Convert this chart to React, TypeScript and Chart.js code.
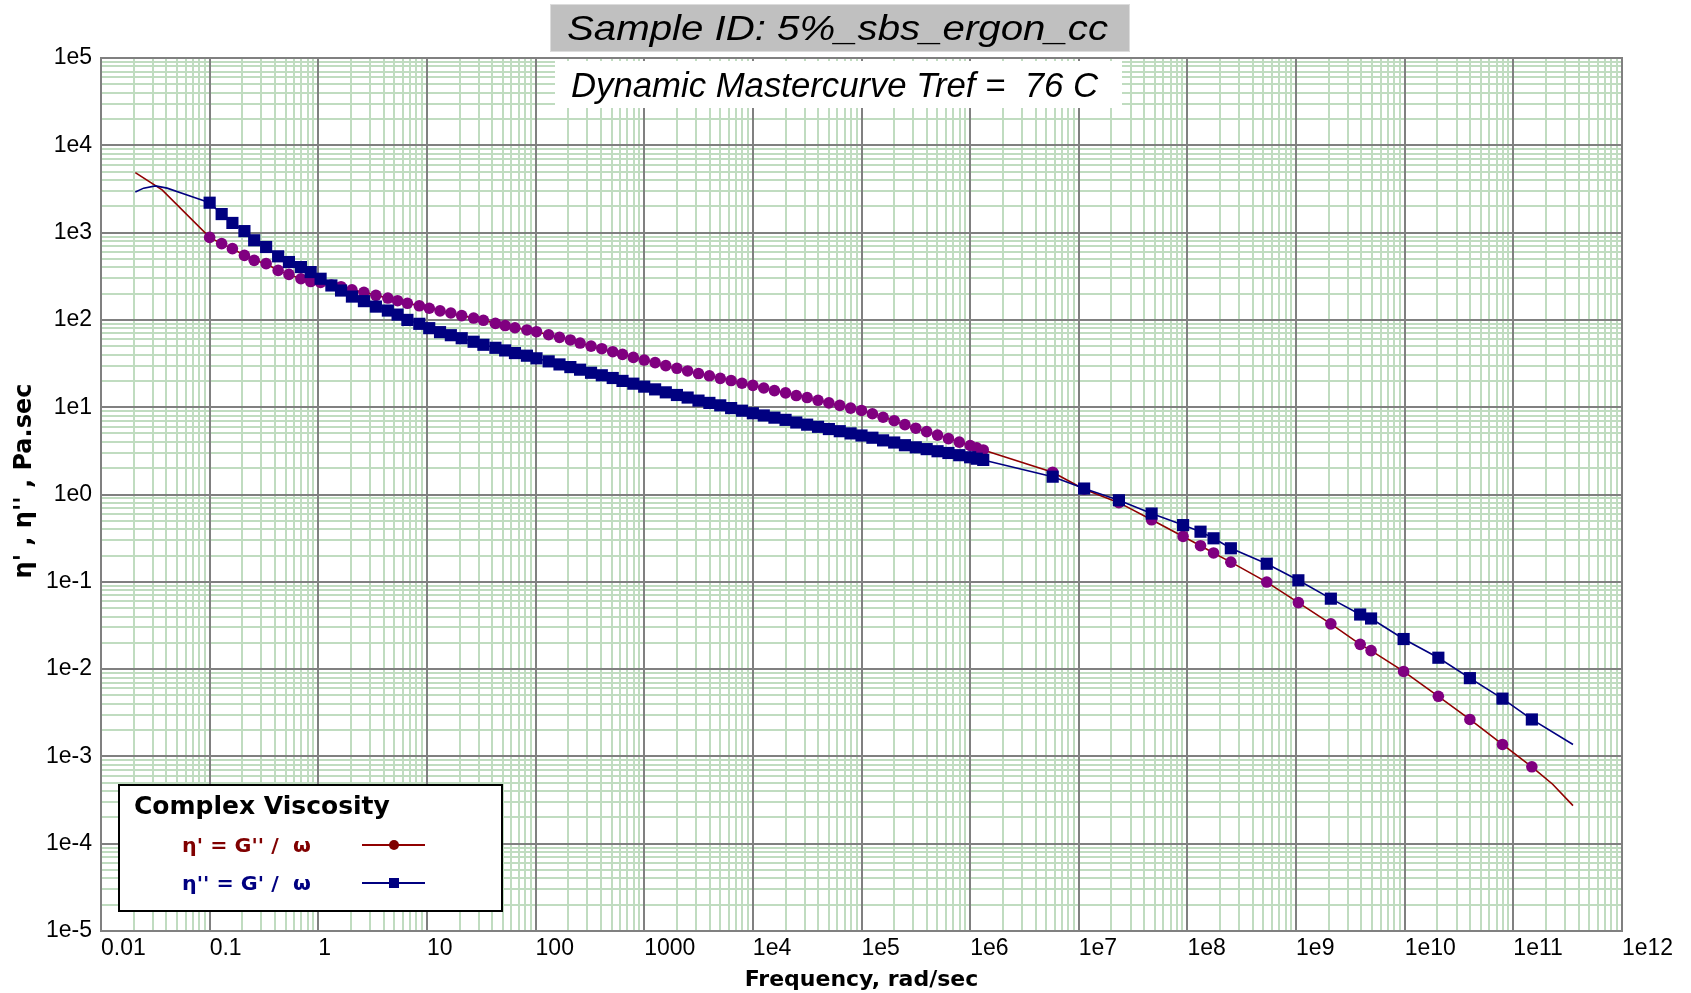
import React, { useEffect, useRef } from 'react';
import { Chart, registerables } from 'chart.js';

Chart.register(...registerables);

// ---------- tick labels ----------
const X_TICK_LABELS = ['0.01', '0.1', '1', '10', '100', '1000', '1e4', '1e5', '1e6', '1e7', '1e8', '1e9', '1e10', '1e11', '1e12'];
const Y_TICK_LABELS = ['1e-5', '1e-4', '1e-3', '1e-2', '1e-1', '1e0', '1e1', '1e2', '1e3', '1e4', '1e5'];
const X_MIN_EXP = -2;
const X_MAX_EXP = 12;
const Y_MIN_EXP = -5;
const Y_MAX_EXP = 5;

// ---------- measured data (frequency, rad/sec) ----------
const FREQ_DENSE = [
  0.1, 0.129, 0.162, 0.209, 0.257, 0.331, 0.427, 0.537, 0.692, 0.851,
  1.05, 1.32, 1.62, 2.04, 2.63, 3.39, 4.37, 5.37, 6.61, 8.51,
  10.5, 13.2, 16.6, 20.9, 26.9, 33.1, 42.7, 52.5, 64.6, 83.2,
  102, 132, 166, 209, 257, 324, 407, 513, 631, 794,
  1000, 1260, 1580, 2000, 2510, 3160, 3980, 5010, 6310, 7940,
  1.0e4, 1.26e4, 1.58e4, 2.0e4, 2.51e4, 3.16e4, 3.98e4, 5.01e4, 6.31e4, 7.94e4,
  1.0e5, 1.26e5, 1.58e5, 2.0e5, 2.51e5, 3.16e5, 3.98e5, 5.01e5, 6.31e5, 7.94e5,
  1.0e6, 1.15e6, 1.32e6,
];
const ETA1_DENSE = [
  881, 748, 655, 548, 481, 441, 369, 332, 296, 275,
  269, 251, 240, 221, 207, 191, 178, 166, 155, 145,
  136, 127, 120, 112, 105, 98.9, 91.2, 86.1, 81.3, 76.7,
  73.3, 67.6, 63.1, 58.9, 54.3, 50.1, 46.8, 43.2, 40.3, 37.2,
  34.7, 32.4, 29.9, 27.9, 26.0, 24.3, 22.9, 21.4, 20.2, 18.8,
  17.8, 16.6, 15.5, 14.6, 13.6, 12.9, 12.0, 11.2, 10.5, 9.77,
  9.18, 8.41, 7.67, 7.0, 6.31, 5.75, 5.25, 4.79, 4.37, 3.98,
  3.64, 3.43, 3.24,
];
const ETA2_DENSE = [
  2200, 1630, 1290, 1040, 817, 684, 535, 460, 403, 353,
  296, 248, 217, 185, 164, 142, 128, 115, 100, 90.2,
  80.4, 72.4, 66.8, 61.7, 56.2, 51.9, 47.9, 44.7, 41.7, 38.9,
  36.3, 33.5, 30.9, 28.8, 26.9, 24.8, 23.2, 21.6, 20.0, 18.6,
  17.2, 16.0, 14.8, 13.8, 12.9, 11.9, 11.2, 10.5, 9.77, 9.12,
  8.53, 8.04, 7.59, 7.16, 6.68, 6.31, 5.96, 5.62, 5.31, 5.01,
  4.74, 4.47, 4.17, 3.94, 3.67, 3.47, 3.31, 3.13, 2.99, 2.82,
  2.67, 2.57, 2.49,
];
const FREQ_SPARSE = [5.75e6, 1.12e7, 2.34e7, 4.68e7, 9.12e7, 1.32e8, 1.74e8, 2.51e8, 5.37e8, 1.05e9, 2.09e9, 3.89e9, 4.9e9, 9.77e9, 2.04e10, 3.98e10, 7.94e10, 1.48e11];
const ETA1_SPARSE = [1.8, 1.15, 0.807, 0.513, 0.331, 0.259, 0.214, 0.168, 0.0993, 0.0578, 0.033, 0.0192, 0.0163, 0.0094, 0.00488, 0.00265, 0.00137, 0.00076];
const ETA2_SPARSE = [1.6, 1.17, 0.859, 0.605, 0.446, 0.375, 0.315, 0.242, 0.161, 0.104, 0.0641, 0.0422, 0.038, 0.0221, 0.0135, 0.00788, 0.00459, 0.00265];

// ---------- fitted curve extensions beyond the markers ----------
const FIT1_HEAD_FREQ = [0.0207, 0.0365];
const FIT1_HEAD = [4860, 3080];
const FIT1_TAIL_FREQ = [2.3e11, 3.54e11];
const FIT1_TAIL = [0.00048, 0.000273];
const FIT2_HEAD_FREQ = [0.0207, 0.0247, 0.0317, 0.0406, 0.062];
const FIT2_HEAD = [2920, 3230, 3430, 3230, 2700];
const FIT2_TAIL_FREQ = [3.54e11];
const FIT2_TAIL = [0.00137];

const TITLE = 'Sample ID: 5%_sbs_ergon_cc';
const SUBTITLE = 'Dynamic Mastercurve Tref =  76 C';
const X_TITLE = 'Frequency, rad/sec';
const Y_TITLE = "\u03B7' , \u03B7'' , Pa.sec";
const LEGEND_TITLE = 'Complex Viscosity';
const LEGEND_1 = "\u03B7' = G'' /  \u03C9";
const LEGEND_2 = "\u03B7'' = G' /  \u03C9";

const toXY = (xs: number[], ys: number[]) => xs.map((x, i) => ({ x, y: ys[i] }));

function isPow10(v: number) {
  const l = Math.log10(v);
  return Math.abs(l - Math.round(l)) < 1e-6;
}

function logTicks(minExp: number, maxExp: number) {
  const t: { value: number; major: boolean }[] = [];
  for (let e = minExp; e <= maxExp; e++) {
    const base = Math.pow(10, e);
    t.push({ value: base, major: true });
    if (e < maxExp) {
      for (let m = 2; m <= 9; m++) t.push({ value: m * base, major: false });
    }
  }
  return t;
}

function fitText(ctx: CanvasRenderingContext2D, text: string, x: number, baseline: number, width: number) {
  const w = ctx.measureText(text).width;
  ctx.save();
  ctx.translate(x, baseline);
  ctx.scale(width / w, 1);
  ctx.textAlign = 'left';
  ctx.textBaseline = 'alphabetic';
  ctx.fillText(text, 0, 0);
  ctx.restore();
}

const overlayPlugin = {
  id: 'overlay',
  beforeDatasetsDraw(chart: any) {
    const { ctx, chartArea: a, scales } = chart;
    const xs = scales.x;
    const ys = scales.y;
    ctx.save();
    ctx.strokeStyle = '#808080';
    ctx.lineWidth = 2;
    ctx.beginPath();
    xs.ticks.forEach((t: any) => {
      if (!isPow10(t.value)) return;
      const px = Math.round(xs.getPixelForValue(t.value));
      ctx.moveTo(px, a.top);
      ctx.lineTo(px, a.bottom);
    });
    ys.ticks.forEach((t: any) => {
      if (!isPow10(t.value)) return;
      const py = Math.round(ys.getPixelForValue(t.value));
      ctx.moveTo(a.left, py);
      ctx.lineTo(a.right, py);
    });
    ctx.stroke();
    ctx.strokeRect(a.left, a.top, a.right - a.left, a.bottom - a.top);
    ctx.restore();
  },
  afterDraw(chart: any) {
    const { ctx } = chart;
    ctx.save();
    // title box
    ctx.fillStyle = '#c0c0c0';
    ctx.fillRect(551, 5, 578, 46);
    ctx.strokeStyle = '#dcdcdc';
    ctx.lineWidth = 1;
    ctx.strokeRect(550.5, 4.5, 579, 47);
    ctx.fillStyle = '#000';
    ctx.font = "italic 35px 'Liberation Sans', Arial, sans-serif";
    fitText(ctx, TITLE, 567, 40, 541);
    // subtitle box
    ctx.fillStyle = '#ffffff';
    ctx.fillRect(555, 61, 567, 47);
    ctx.fillStyle = '#000';
    ctx.font = "italic 35px 'Liberation Sans', Arial, sans-serif";
    fitText(ctx, SUBTITLE, 571, 97, 527);

    // y axis title
    ctx.save();
    ctx.translate(25, 481);
    ctx.rotate(-Math.PI / 2);
    ctx.font = "bold 24px 'DejaVu Sans', sans-serif";
    ctx.fillStyle = '#000';
    ctx.textAlign = 'center';
    ctx.textBaseline = 'middle';
    ctx.fillText(Y_TITLE, 0, 0);
    ctx.restore();

    // legend
    ctx.fillStyle = '#ffffff';
    ctx.fillRect(119, 785, 383, 126);
    ctx.strokeStyle = '#000';
    ctx.lineWidth = 2;
    ctx.strokeRect(119, 785, 383, 126);
    ctx.fillStyle = '#000';
    ctx.font = "bold 25px 'DejaVu Sans', sans-serif";
    ctx.textAlign = 'left';
    ctx.textBaseline = 'alphabetic';
    ctx.fillText(LEGEND_TITLE, 134, 814);

    ctx.font = "bold 20px 'DejaVu Sans', sans-serif";
    ctx.textBaseline = 'middle';
    ctx.fillStyle = '#800000';
    fitText(ctx, LEGEND_1, 182, 852, 129);
    ctx.fillStyle = '#000080';
    fitText(ctx, LEGEND_2, 182, 890, 129);

    ctx.lineWidth = 2;
    ctx.strokeStyle = '#900000';
    ctx.beginPath();
    ctx.moveTo(362, 845);
    ctx.lineTo(425, 845);
    ctx.stroke();
    ctx.fillStyle = '#800000';
    ctx.beginPath();
    ctx.arc(394, 845, 5, 0, Math.PI * 2);
    ctx.fill();

    ctx.strokeStyle = '#000080';
    ctx.beginPath();
    ctx.moveTo(362, 883);
    ctx.lineTo(425, 883);
    ctx.stroke();
    ctx.fillStyle = '#000080';
    ctx.fillRect(389, 878, 10, 10);
    ctx.restore();
  },
};

export default function App() {
  const canvasRef = useRef<HTMLCanvasElement | null>(null);

  useEffect(() => {
    document.body.style.margin = '0';
    const canvas = canvasRef.current;
    if (!canvas) return;

    const fit1 = [
      ...toXY(FIT1_HEAD_FREQ, FIT1_HEAD),
      ...toXY(FREQ_DENSE, ETA1_DENSE),
      ...toXY(FREQ_SPARSE, ETA1_SPARSE),
      ...toXY(FIT1_TAIL_FREQ, FIT1_TAIL),
    ];
    const fit2 = [
      ...toXY(FIT2_HEAD_FREQ, FIT2_HEAD),
      ...toXY(FREQ_DENSE, ETA2_DENSE),
      ...toXY(FREQ_SPARSE, ETA2_SPARSE),
      ...toXY(FIT2_TAIL_FREQ, FIT2_TAIL),
    ];
    const marks1 = [...toXY(FREQ_DENSE, ETA1_DENSE), ...toXY(FREQ_SPARSE, ETA1_SPARSE)];
    const marks2 = [...toXY(FREQ_DENSE, ETA2_DENSE), ...toXY(FREQ_SPARSE, ETA2_SPARSE)];

    const gridColor = (c: any) => (c.tick && isPow10(c.tick.value) ? '#808080' : '#c0dcc0');

    const chart = new Chart(canvas, {
      type: 'scatter',
      data: {
        datasets: [
          {
            label: "η'' markers",
            data: marks2,
            showLine: false,
            pointStyle: 'rect',
            pointRadius: 8.6,
            pointBackgroundColor: '#000080',
            pointBorderColor: '#000080',
            pointBorderWidth: 0,
          },
          {
            label: "η'' = G' / ω",
            data: fit2,
            showLine: true,
            borderColor: '#000080',
            borderWidth: 1.6,
            pointRadius: 0,
            tension: 0,
          },
          {
            label: "η' markers",
            data: marks1,
            showLine: false,
            pointStyle: 'circle',
            pointRadius: 5.8,
            pointBackgroundColor: '#800080',
            pointBorderColor: '#800080',
            pointBorderWidth: 0,
          },
          {
            label: "η' = G'' / ω",
            data: fit1,
            showLine: true,
            borderColor: '#900000',
            borderWidth: 1.6,
            pointRadius: 0,
            tension: 0,
          },
        ],
      },
      options: {
        responsive: false,
        animation: false,
        events: [],
        layout: { padding: { left: 0, top: 58, right: 69, bottom: 0 } },
        plugins: {
          legend: { display: false },
          tooltip: { enabled: false },
          title: { display: false },
        },
        scales: {
          x: {
            type: 'logarithmic',
            position: 'bottom',
            min: Math.pow(10, X_MIN_EXP),
            max: Math.pow(10, X_MAX_EXP),
            afterBuildTicks: (scale: any) => {
              scale.ticks = logTicks(X_MIN_EXP, X_MAX_EXP);
            },
            afterFit: (scale: any) => {
              scale.height = 62;
              scale.paddingLeft = 0;
              scale.paddingRight = 0;
            },
            grid: { color: gridColor, lineWidth: 2, drawTicks: false },
            border: { display: true, color: '#808080', width: 2 },
            ticks: {
              autoSkip: false,
              maxRotation: 0,
              minRotation: 0,
              align: 'start',
              padding: 4,
              color: '#000',
              font: { family: "'Liberation Sans', Arial, sans-serif", size: 23 },
              callback: (v: any) => {
                const val = Number(v);
                if (!isPow10(val)) return '';
                return X_TICK_LABELS[Math.round(Math.log10(val)) - X_MIN_EXP] ?? '';
              },
            },
            title: {
              display: true,
              text: X_TITLE,
              color: '#000',
              padding: { top: 0, bottom: 0 },
              font: { family: "'DejaVu Sans', sans-serif", size: 22, weight: 'bold' },
            },
          },
          y: {
            type: 'logarithmic',
            position: 'left',
            min: Math.pow(10, Y_MIN_EXP),
            max: Math.pow(10, Y_MAX_EXP),
            afterBuildTicks: (scale: any) => {
              scale.ticks = logTicks(Y_MIN_EXP, Y_MAX_EXP);
            },
            afterFit: (scale: any) => {
              scale.width = 101;
              scale.paddingTop = 0;
              scale.paddingBottom = 0;
            },
            grid: { color: gridColor, lineWidth: 2, drawTicks: false },
            border: { display: true, color: '#808080', width: 2 },
            ticks: {
              autoSkip: false,
              padding: 9,
              color: '#000',
              font: { family: "'Liberation Sans', Arial, sans-serif", size: 23 },
              callback: (v: any) => {
                const val = Number(v);
                if (!isPow10(val)) return '';
                return Y_TICK_LABELS[Math.round(Math.log10(val)) - Y_MIN_EXP] ?? '';
              },
            },
          },
        },
      },
      plugins: [overlayPlugin],
    } as any);

    return () => {
      chart.destroy();
    };
  }, []);

  return (
    <div style={{ position: 'relative', width: 1691, height: 993, background: '#fff' }}>
      <canvas ref={canvasRef} width={1691} height={993} style={{ display: 'block' }} />
    </div>
  );
}
